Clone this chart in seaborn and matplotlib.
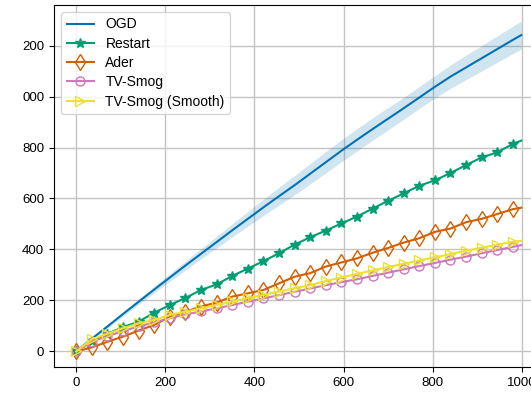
"""Cumulative loss curves of online learners (OGD, Restart, Ader, TV-Smog)."""

import matplotlib

matplotlib.use("Agg")
import matplotlib.pyplot as plt
import pandas as pd
import seaborn as sns


STEPS = [0, 35, 70, 105, 140, 175, 210, 245, 280, 315, 350, 385, 420, 455, 490,
         525, 560, 595, 630, 665, 700, 735, 770, 805, 840, 875, 910, 945, 980, 999]

OGD = [0, 50, 98, 147, 195, 243, 290, 337, 383, 429, 475, 520, 565, 609, 652,
       697, 742, 787, 830, 872, 913, 954, 996, 1038, 1078, 1114, 1150, 1186, 1222, 1241]
OGD_SPREAD = [2, 5, 7, 9, 11, 13, 15, 18, 20, 23, 26, 29, 32, 35, 38,
              40, 42, 43, 44, 44, 44, 43, 43, 44, 46, 48, 50, 52, 54, 55]
RESTART = [0, 40, 70, 95, 117, 152, 182, 210, 241, 263, 296, 325, 354, 385, 419,
           448, 474, 502, 529, 560, 591, 620, 650, 671, 700, 731, 761, 781, 814, 827]
ADER = [0, 16, 38, 58, 82, 104, 136, 156, 176, 192, 215, 228, 241, 267, 293,
        307, 333, 349, 365, 387, 406, 427, 444, 469, 482, 507, 520, 539, 558, 564]
TV_SMOG = [0, 38, 60, 80, 98, 114, 130, 145, 157, 169, 182, 195, 208, 221, 234,
           247, 260, 272, 283, 296, 309, 322, 335, 347, 360, 372, 385, 398, 410, 417]
TV_SMOG_SMOOTH = [0, 48, 69, 91, 110, 124, 143, 156, 169, 182, 196, 209, 222, 235, 248,
                  260, 276, 290, 304, 318, 331, 344, 357, 369, 382, 395, 407, 419, 430, 434]

X_TICKS = [0, 200, 400, 600, 800, 1000]
Y_TICKS = [0, 200, 400, 600, 800, 1000, 1200]
# the left edge of the source figure cuts the leading "1" off the top two labels
Y_TICK_LABELS = ["0", "200", "400", "600", "800", "000", "200"]

palette = sns.color_palette("colorblind")
frame = pd.DataFrame(
    {
        "t": STEPS,
        "OGD": OGD,
        "Restart": RESTART,
        "Ader": ADER,
        "TV-Smog": TV_SMOG,
        "TV-Smog (Smooth)": TV_SMOG_SMOOTH,
    }
)
marks = slice(0, len(STEPS) - 1)

plt.rcParams["font.family"] = ["Liberation Sans", "DejaVu Sans"]
fig = plt.figure(figsize=(5.31, 3.93), dpi=100)
ax = fig.add_axes([54 / 531, 26 / 393, 490 / 531, 362 / 393])

sns.lineplot(data=frame, x="t", y="OGD", ax=ax, color=palette[0],
             linewidth=1.5, label="OGD")
ax.fill_between(
    frame["t"],
    [v - s for v, s in zip(OGD, OGD_SPREAD)],
    [v + s for v, s in zip(OGD, OGD_SPREAD)],
    color=palette[0],
    alpha=0.18,
    linewidth=0,
)

marker_styles = [
    ("Restart", palette[2], "*", 7.5, palette[2]),
    ("Ader", palette[3], "d", 8.5, "none"),
    ("TV-Smog", palette[4], "o", 6.5, "none"),
    ("TV-Smog (Smooth)", palette[8], ">", 7, "none"),
]
for name, color, marker, size, face in marker_styles:
    sns.lineplot(data=frame, x="t", y=name, ax=ax, color=color,
                 linewidth=1.5, marker=marker, markersize=size,
                 markevery=marks, markerfacecolor=face,
                 markeredgecolor=color, markeredgewidth=1.0, label=name)

ax.set_xlim(-50, 1050)
ax.set_ylim(-61, 1359)
ax.set_xticks(X_TICKS)
ax.set_yticks(Y_TICKS)
ax.set_yticklabels(Y_TICK_LABELS)
ax.tick_params(labelsize=9.5)
ax.set_xlabel("")
ax.set_ylabel("")
ax.grid(True, color="#c4c4c4", linewidth=1.0)
ax.set_axisbelow(True)
ax.legend(loc="upper left", fontsize=10, labelspacing=0.38, framealpha=0.8)

fig.savefig("out.png", dpi=100)
